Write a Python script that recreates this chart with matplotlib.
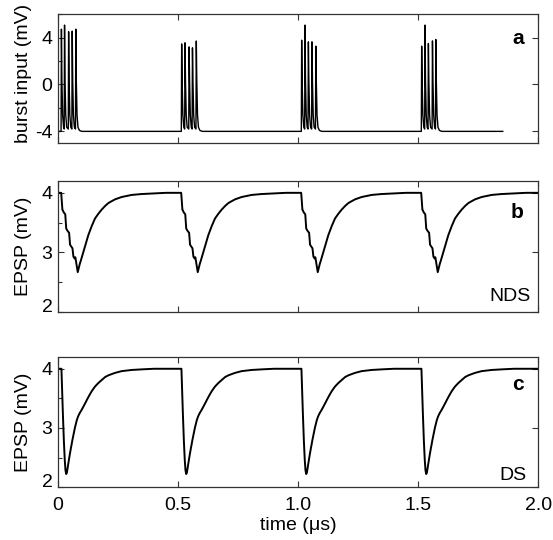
import matplotlib.pyplot as plt
from matplotlib.ticker import MultipleLocator

plt.rcParams['font.family'] = ['Liberation Sans', 'DejaVu Sans']
plt.rcParams['font.size'] = 14
plt.rcParams['axes.unicode_minus'] = False

# burst onsets (us)
onsets = [0.0, 0.5, 1.0, 1.5]

# panel a: spike times and peak values per burst
spike_times = [
    [0.014, 0.027, 0.044, 0.059, 0.074],
    [0.515, 0.529, 0.546, 0.560, 0.576],
    [1.015, 1.029, 1.043, 1.058, 1.074],
    [1.515, 1.529, 1.543, 1.560, 1.574],
]
spike_peaks = [
    [4.71, 5.06, 4.49, 4.54, 4.71],
    [3.45, 3.55, 3.20, 3.12, 3.70],
    [3.77, 5.06, 3.63, 3.63, 3.26],
    [3.26, 5.06, 3.49, 3.71, 3.83],
]
rest_v = -4.0
trough_v = -3.8
input_end = 1.853
# falling phase of one spike (time after peak, mV)
fall_dt = [0.002, 0.005, 0.009]
fall_v = [0.3, -2.6, -3.65]
tail_dt = [0.015, 0.025]
tail_v = [-3.92, -4.0]

# panel b (NDS): one cycle, time after burst onset
nds_t = [0.0, 0.013, 0.018, 0.024, 0.030, 0.034, 0.040, 0.046, 0.050, 0.055,
         0.060, 0.064, 0.069, 0.072, 0.077, 0.082, 0.090, 0.099, 0.112, 0.126,
         0.140, 0.154, 0.168, 0.182, 0.196, 0.210, 0.237, 0.265, 0.307, 0.349,
         0.404, 0.450, 0.500]
nds_v = [4.00, 4.00, 3.72, 3.67, 3.64, 3.40, 3.36, 3.33, 3.13, 3.10,
         3.07, 2.93, 2.90, 2.92, 2.80, 2.67, 2.80, 2.92, 3.10, 3.29,
         3.44, 3.57, 3.65, 3.72, 3.78, 3.83, 3.89, 3.93, 3.965, 3.98,
         3.99, 4.00, 4.00]

# panel c (DS): one cycle, time after burst onset
ds_t = [0.0, 0.014, 0.016, 0.020, 0.024, 0.028, 0.031, 0.034, 0.037, 0.042,
        0.050, 0.060, 0.070, 0.078, 0.083, 0.090, 0.099, 0.112, 0.126, 0.140,
        0.154, 0.168, 0.182, 0.196, 0.210, 0.237, 0.265, 0.307, 0.349, 0.400,
        0.500]
ds_v = [4.00, 4.00, 3.75, 3.25, 2.80, 2.45, 2.28, 2.22, 2.25, 2.38,
        2.58, 2.80, 3.00, 3.13, 3.19, 3.25, 3.31, 3.41, 3.52, 3.62,
        3.70, 3.76, 3.81, 3.86, 3.89, 3.93, 3.96, 3.98, 3.99, 4.00,
        4.00]

# build burst input trace
a_t = [0.0]
a_v = [rest_v]
for times, peaks in zip(spike_times, spike_peaks):
    for i, (ts, pk) in enumerate(zip(times, peaks)):
        a_t += [ts - 0.0015, ts]
        a_v += [rest_v if i == 0 else trough_v, pk]
        a_t += [ts + d for d in fall_dt]
        a_v += fall_v
    a_t += [times[-1] + d for d in tail_dt]
    a_v += tail_v
a_t.append(input_end)
a_v.append(rest_v)

b_t, b_v, c_t, c_v = [], [], [], []
for t0 in onsets:
    b_t += [t0 + t for t in nds_t]
    b_v += nds_v
    c_t += [t0 + t for t in ds_t]
    c_v += ds_v

fig = plt.figure(figsize=(5.53, 5.4), dpi=100)
ax_a = fig.add_axes([0.105, 0.735, 0.868, 0.239])
ax_b = fig.add_axes([0.105, 0.422, 0.868, 0.243])
ax_c = fig.add_axes([0.105, 0.098, 0.868, 0.241])

ax_a.plot(a_t, a_v, color='black', lw=1.0)
ax_b.plot(b_t, b_v, color='black', lw=1.4)
ax_c.plot(c_t, c_v, color='black', lw=1.4)

ax_a.set_ylim(-5, 6)
ax_a.set_yticks([-4, 0, 4])
ax_a.yaxis.set_minor_locator(MultipleLocator(2))
ax_a.set_ylabel('burst input (mV)')
ax_a.yaxis.set_label_coords(-0.055, 0.54)

for ax in (ax_b, ax_c):
    ax.set_ylim(2, 4.2)
    ax.set_yticks([2, 3, 4])
    ax.yaxis.set_minor_locator(MultipleLocator(0.5))
    ax.set_ylabel('EPSP (mV)')
    ax.yaxis.set_label_coords(-0.055, 0.5)
    # bottom label sits just above the axis line
    ax.yaxis.get_major_ticks()[0].label1.set_va('baseline')

for ax in (ax_a, ax_b, ax_c):
    ax.set_xlim(0, 2.0)
    ax.set_xticks([0, 0.5, 1.0, 1.5, 2.0])
    ax.tick_params(which='both', direction='in', top=True, right=True,
                   color='#333333', width=0.8)
    ax.tick_params(which='major', length=4)
    ax.tick_params(which='minor', length=3, right=False)
    ax.tick_params(axis='y', pad=4)
    ax.tick_params(axis='x', pad=7)
    for s in ax.spines.values():
        s.set_color('#333333')
        s.set_linewidth(0.9)

ax_a.tick_params(labelbottom=False)
ax_b.tick_params(labelbottom=False)
ax_c.set_xticklabels(['0', '0.5', '1.0', '1.5', '2.0'])
ax_c.set_xlabel('time (\u03bcs)', labelpad=2)

ax_a.text(0.97, 0.81, 'a', transform=ax_a.transAxes, ha='right', va='center',
          fontweight='bold', fontsize=15)
ax_b.text(0.97, 0.76, 'b', transform=ax_b.transAxes, ha='right', va='center',
          fontweight='bold', fontsize=15)
ax_c.text(0.97, 0.785, 'c', transform=ax_c.transAxes, ha='right', va='center',
          fontweight='bold', fontsize=15)
ax_b.text(0.985, 0.12, 'NDS', transform=ax_b.transAxes, ha='right', va='center')
ax_c.text(0.975, 0.09, 'DS', transform=ax_c.transAxes, ha='right', va='center')

fig.savefig('out.png', dpi=100)
